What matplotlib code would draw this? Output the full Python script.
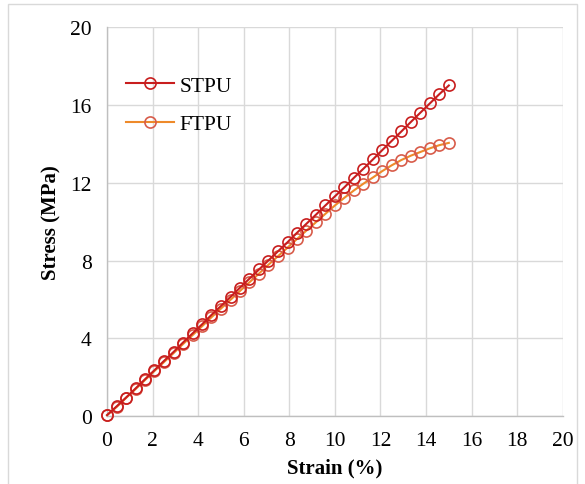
import matplotlib.pyplot as plt
from matplotlib.patches import Rectangle

plt.rcParams["font.family"] = ["Liberation Serif", "DejaVu Serif"]

strain = [0.0, 0.42, 0.83, 1.25, 1.67, 2.08, 2.5, 2.92, 3.33, 3.75, 4.17, 4.58,
          5.0, 5.42, 5.83, 6.25, 6.67, 7.08, 7.5, 7.92, 8.33, 8.75, 9.17, 9.58,
          10.0, 10.42, 10.83, 11.25, 11.67, 12.08, 12.5, 12.92, 13.33, 13.75,
          14.17, 14.58, 15.0]

stpu = [0.05, 0.5, 0.95, 1.42, 1.9, 2.36, 2.84, 3.3, 3.78, 4.25, 4.72, 5.2,
        5.66, 6.13, 6.6, 7.07, 7.54, 8.0, 8.47, 8.94, 9.42, 9.89, 10.36, 10.83,
        11.3, 11.77, 12.25, 12.72, 13.2, 13.68, 14.16, 14.64, 15.12, 15.6,
        16.08, 16.55, 17.0]

ftpu = [0.05, 0.47, 0.93, 1.39, 1.86, 2.32, 2.78, 3.24, 3.7, 4.16, 4.62, 5.08,
        5.53, 5.98, 6.43, 6.88, 7.33, 7.78, 8.22, 8.66, 9.1, 9.54, 9.97, 10.4,
        10.83, 11.23, 11.6, 11.95, 12.27, 12.6, 12.9, 13.17, 13.39, 13.58,
        13.77, 13.93, 14.05]

xticks = list(range(0, 21, 2))
yticks = list(range(0, 21, 4))

fig = plt.figure(figsize=(5.85, 4.85), dpi=100)
ax = fig.add_axes([0.183, 0.140, 0.779, 0.802])

ax.plot(strain, stpu, color="#c81e1e", lw=1.5, marker="o", ms=8,
        mfc="none", mec="#c81e1e", mew=1.2, label="STPU", zorder=4, clip_on=False)
ax.plot(strain, ftpu, color="#ee8a2a", lw=1.5, marker="o", ms=8,
        mfc="none", mec="#d85c4a", mew=1.2, label="FTPU", zorder=3, clip_on=False)

ax.set_xlim(0, 20)
ax.set_ylim(0, 20)
ax.set_xticks(xticks)
ax.set_yticks(yticks)
ax.tick_params(length=0, labelsize=15.5, pad=11)
ax.grid(True, color="#d9d9d9", lw=1)
ax.set_axisbelow(True)
for side in ["top", "right"]:
    ax.spines[side].set_visible(False)
for side in ["left", "bottom"]:
    ax.spines[side].set_color("#bfbfbf")
    ax.spines[side].set_linewidth(1)

ax.set_xlabel("Strain (%)", fontsize=15, fontweight="bold", labelpad=5)
ax.set_ylabel("Stress (MPa)", fontsize=15, fontweight="bold", labelpad=6)

ax.legend(loc="upper left", bbox_to_anchor=(0.0, 0.925), frameon=False,
          fontsize=15.5, handlelength=2.2, labelspacing=0.85, handletextpad=0.25)

# light frame around the whole chart
fig.patches.append(Rectangle((0.014, -0.02), 0.972, 1.01, transform=fig.transFigure,
                             fill=False, ec="#d9d9d9", lw=1))

fig.savefig("out.png", dpi=100)
